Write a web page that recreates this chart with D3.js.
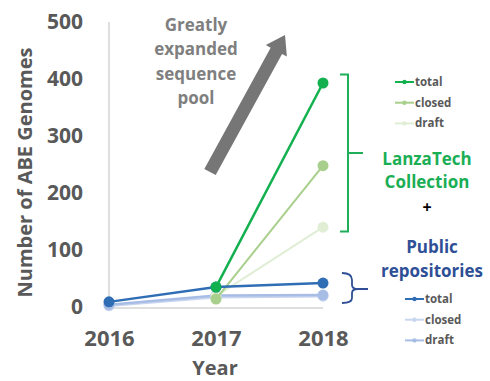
<!DOCTYPE html>
<html>
<head>
<meta charset="utf-8">
<script src="https://cdn.jsdelivr.net/npm/d3@7"></script>
<style>
  body { margin: 0; background: #fff; }
  text { font-family: "Open Sans", "Liberation Sans", sans-serif; font-weight: bold; }
</style>
</head>
<body>
<div id="chart"></div>
<script>
// values
const years = [2016, 2017, 2018];
const yTicks = [0, 100, 200, 300, 400, 500];

const lanzaYears = [2017, 2018];
const lanzaTotal = [35, 393];
const lanzaClosed = [14, 248];
const lanzaDraft = [19, 140];

const publicTotal = [9, 35, 42];
const publicClosed = [2, 17, 19];
const publicDraft = [4, 20, 21];

const legendNames = ["total", "closed", "draft"];
const greens = ["#12b04f", "#a8cf8c", "#e0eed6"];
const blues = ["#2f6db5", "#c9d6ef", "#a8bde6"];

const width = 490, height = 381;
const margin = { top: 22, right: 167, bottom: 73, left: 109 };

const svg = d3.select("#chart").append("svg")
    .attr("width", width)
    .attr("height", height);

const x = d3.scaleLinear().domain([2016, 2018]).range([margin.left, width - margin.right]);
const y = d3.scaleLinear().domain([0, 500]).range([height - margin.bottom - 1, margin.top]);

// axes lines
svg.append("line")
    .attr("x1", x(2016)).attr("x2", x(2016))
    .attr("y1", y(500)).attr("y2", y(0))
    .attr("stroke", "#bfbfbf").attr("stroke-width", 1);
svg.append("line")
    .attr("x1", x(2016)).attr("x2", x(2018))
    .attr("y1", y(0) + 1).attr("y2", y(0) + 1)
    .attr("stroke", "#bfbfbf").attr("stroke-width", 1);

const yAxis = d3.axisLeft(y).tickValues(yTicks).tickSize(0).tickPadding(0);
svg.append("g")
    .attr("transform", `translate(${margin.left - 26},0)`)
    .call(yAxis)
    .call(g => g.select(".domain").remove())
    .call(g => g.selectAll("text")
        .attr("fill", "#595959").attr("font-size", 21).attr("text-anchor", "end")
        .attr("font-family", "'Open Sans', sans-serif").attr("font-weight", "bold"));

const xAxis = d3.axisBottom(x).tickValues(years).tickFormat(d3.format("d")).tickSize(0).tickPadding(0);
svg.append("g")
    .attr("transform", `translate(0,${y(0) + 23})`)
    .call(xAxis)
    .call(g => g.select(".domain").remove())
    .call(g => g.selectAll("text")
        .attr("fill", "#595959").attr("font-size", 22)
        .attr("font-family", "'Open Sans', sans-serif").attr("font-weight", "bold"));

// axis titles
svg.append("text")
    .attr("transform", `translate(32,${(y(0) + y(500)) / 2 + 8}) rotate(-90)`)
    .attr("text-anchor", "middle")
    .attr("fill", "#595959").attr("font-size", 20)
    .text("Number of ABE Genomes");
svg.append("text")
    .attr("x", 215).attr("y", 375)
    .attr("text-anchor", "middle")
    .attr("fill", "#595959").attr("font-size", 20)
    .text("Year");

// series
const line = d3.line().x(d => x(d[0])).y(d => y(d[1]));

function drawSeries(xs, vals, color, w, r) {
    const pts = xs.map((yr, i) => [yr, vals[i]]);
    svg.append("path").datum(pts)
        .attr("d", line).attr("fill", "none")
        .attr("stroke", color).attr("stroke-width", w);
    svg.selectAll(null).data(pts).join("circle")
        .attr("cx", d => x(d[0])).attr("cy", d => y(d[1]))
        .attr("r", r).attr("fill", color);
}

drawSeries(years, publicClosed, blues[1], 2.5, 5.5);
drawSeries(years, publicDraft, blues[2], 2.5, 5.5);
drawSeries(lanzaYears, lanzaDraft, greens[2], 2, 5.5);
drawSeries(lanzaYears, lanzaClosed, greens[1], 2, 5.5);
drawSeries(years, publicTotal, blues[0], 2.5, 5.5);
drawSeries(lanzaYears, lanzaTotal, greens[0], 2.5, 5.5);

// big grey arrow
const ax1 = 210, ay1 = 172, ax2 = 285, ay2 = 35;
const ang = Math.atan2(ay2 - ay1, ax2 - ax1);
const len = Math.hypot(ax2 - ax1, ay2 - ay1);
svg.append("path")
    .attr("transform", `translate(${ax1},${ay1}) rotate(${ang * 180 / Math.PI})`)
    .attr("d", `M0,-6.5 L${len - 18},-6.5 L${len - 18},-12 L${len},0 L${len - 18},12 L${len - 18},6.5 L0,6.5 Z`)
    .attr("fill", "#767676");

// annotation text
const note = ["Greatly", "expanded", "sequence", "pool"];
svg.append("g").selectAll("text").data(note).join("text")
    .attr("x", 196).attr("y", (d, i) => 31 + i * 24.3)
    .attr("text-anchor", "middle")
    .attr("fill", "#7f7f7f").attr("font-size", 17)
    .text(d => d);

// brackets
svg.append("path")
    .attr("d", "M340,74.5 L348,74.5 L348,231.5 L340,231.5 M348,153 L363,153")
    .attr("fill", "none").attr("stroke", "#1fae5a").attr("stroke-width", 2);
svg.append("path")
    .attr("d", "M342,273 Q352,273 352,280 L352,285 Q352,289 358,289 L368,289 M358,289 Q352,289 352,293 L352,298 Q352,303 342,303")
    .attr("fill", "none").attr("stroke", "#2e4f96").attr("stroke-width", 1.8);

// group labels
svg.append("g").selectAll("text").data(["LanzaTech", "Collection"]).join("text")
    .attr("x", 427).attr("y", (d, i) => 165 + i * 23)
    .attr("text-anchor", "middle")
    .attr("fill", "#1aae55").attr("font-size", 17)
    .text(d => d);
svg.append("text")
    .attr("x", 427).attr("y", 213)
    .attr("text-anchor", "middle")
    .attr("fill", "#000").attr("font-size", 16)
    .text("+");
svg.append("g").selectAll("text").data(["Public", "repositories"]).join("text")
    .attr("x", 432).attr("y", (d, i) => 253 + i * 24)
    .attr("text-anchor", "middle")
    .attr("fill", "#2e4f96").attr("font-size", 17)
    .text(d => d);

// legends
function legend(x0, y0, colors) {
    const g = svg.append("g");
    legendNames.forEach((name, i) => {
        const yy = y0 + i * 20.7;
        g.append("line")
            .attr("x1", x0).attr("x2", x0 + 19).attr("y1", yy).attr("y2", yy)
            .attr("stroke", colors[i]).attr("stroke-width", 2);
        g.append("circle").attr("cx", x0 + 9.5).attr("cy", yy).attr("r", 2.2).attr("fill", colors[i]);
        g.append("text")
            .attr("x", x0 + 20).attr("y", yy + 4)
            .attr("fill", "#595959").attr("font-size", 11.5)
            .text(name);
    });
}
legend(395, 82, greens);
legend(405, 299, blues);
</script>
</body>
</html>
